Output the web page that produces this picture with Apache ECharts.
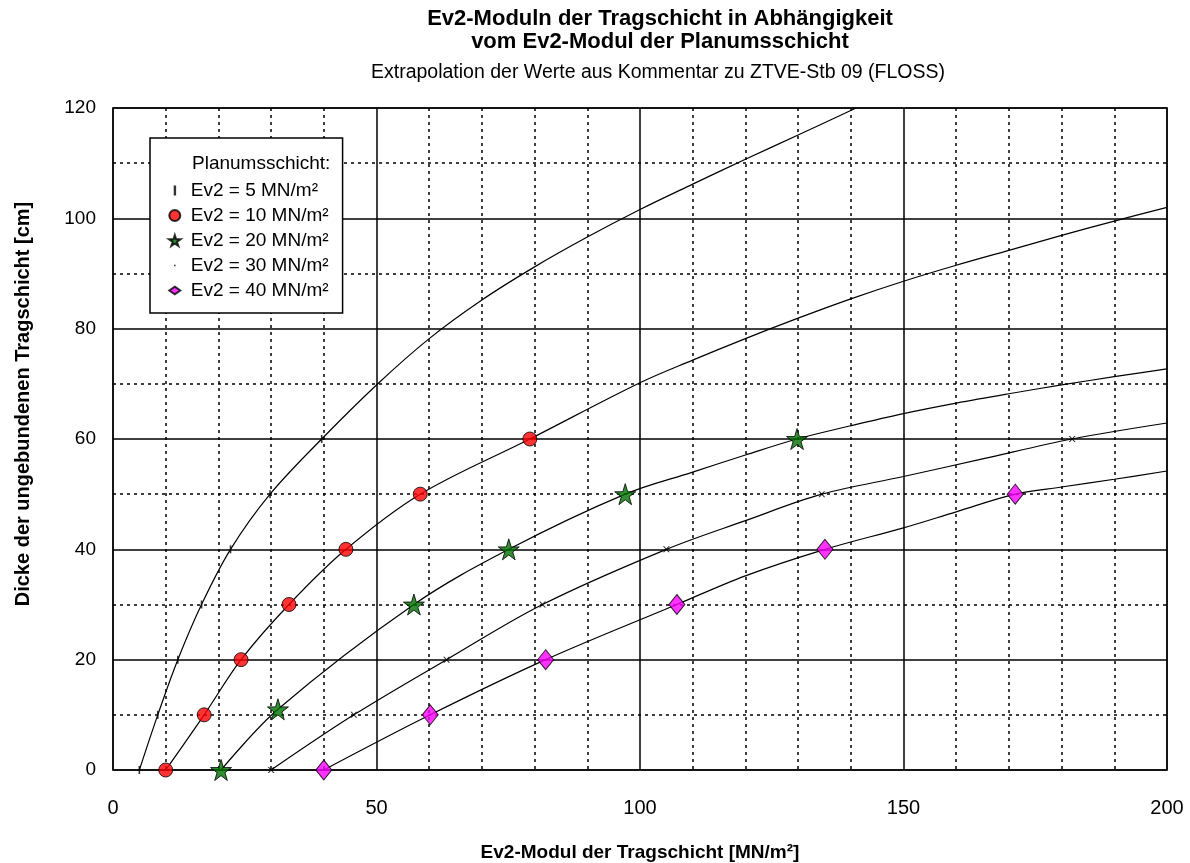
<!DOCTYPE html>
<html>
<head>
<meta charset="utf-8">
<script src="https://cdn.jsdelivr.net/npm/echarts@6/dist/echarts.min.js"></script>
<style>
html, body { margin: 0; padding: 0; background: #fff; }
#chart { width: 1190px; height: 863px; }
</style>
</head>
<body>
<div id="chart"></div>
<script>
const curve5X = [5, 8.5, 12.3, 16.8, 22.3, 29.8, 39.6, 50, 60, 70, 80, 90, 100, 110, 120, 130, 141]
const curve5Y = [0, 10, 20, 30, 40, 50, 60, 69.8, 78.2, 85.2, 91.2, 96.6, 101.6, 106.2, 110.7, 115.1, 120]
const curve10X = [10, 17.3, 24.3, 33.4, 44.2, 58.3, 79.1, 100, 110, 120, 130, 140, 150, 160, 170, 180, 190, 200]
const curve10Y = [0, 10, 20, 30, 40, 50, 60, 70.2, 74.3, 78.2, 81.9, 85.4, 88.6, 91.5, 94.2, 96.9, 99.5, 102]
const curve20X = [20.5, 31.3, 57.1, 75.1, 97.2, 110, 120, 129.8, 140, 150, 160, 170, 180, 190, 200]
const curve20Y = [0, 11, 30, 40, 50, 54, 57.1, 60, 62.4, 64.6, 66.5, 68.2, 69.8, 71.3, 72.7]
const curve30X = [30, 45.7, 63.3, 81.5, 105, 120, 134.5, 150, 165, 182, 200]
const curve30Y = [0, 10, 20, 30, 40, 45.2, 50, 53.2, 56.4, 60, 62.9]
const curve40X = [40, 60.2, 82.1, 107, 120, 135.1, 150, 160, 171.2, 180, 190, 200]
const curve40Y = [0, 10, 20, 30, 35.2, 40, 43.9, 46.8, 50, 51.3, 52.7, 54.2]

// Punkte mit Markierung
const mark5X = [5, 8.5, 12.3, 16.8, 22.3, 29.8, 39.6]
const mark5Y = [0, 10, 20, 30, 40, 50, 60]
const mark10X = [10, 17.3, 24.3, 33.4, 44.2, 58.3, 79.1]
const mark10Y = [0, 10, 20, 30, 40, 50, 60]
const mark20X = [20.5, 31.3, 57.1, 75.1, 97.2, 129.8]
const mark20Y = [0, 11, 30, 40, 50, 60]
const mark30X = [30, 45.7, 63.3, 81.5, 105, 134.5, 182]
const mark30Y = [0, 10, 20, 30, 40, 50, 60]
const mark40X = [40, 60.2, 82.1, 107, 135.1, 171.2]
const mark40Y = [0, 10, 20, 30, 40, 50]

const names = ['Ev2 = 5 MN/m²', 'Ev2 = 10 MN/m²', 'Ev2 = 20 MN/m²', 'Ev2 = 30 MN/m²', 'Ev2 = 40 MN/m²']
const xTicks = [0, 50, 100, 150, 200]
const yTicks = [0, 20, 40, 60, 80, 100, 120]

function zip(xs, ys) {
  return xs.map((x, i) => [x, ys[i]])
}

const starPath = 'path://M50,0 L61,35 L98,35 L68,57 L79,91 L50,70 L21,91 L32,57 L2,35 L39,35 Z'
const crossPath = 'path://M0,0 L2,0 L5,3 L8,0 L10,0 L6,4 L10,8 L8,8 L5,5 L2,8 L0,8 L4,4 Z'
// legend icons: tiny zero-size corners keep the box, so small glyphs stay small
const barIcon = 'path://M0,0 L0,0.01 Z M10,10 L10,10.01 Z M4,0.5 L6.2,0.5 L6.2,9.5 L4,9.5 Z'
const dotIcon = 'path://M0,0 L0,0.01 Z M10,10 L10,10.01 Z M4.3,4.3 L5.7,4.3 L5.7,5.7 L4.3,5.7 Z'
const smallDiamond = 'path://M0,0 L0,0.01 Z M10,10 L10,10.01 Z M5,1.5 L10,5 L5,8.5 L0,5 Z'

const curves = [
  zip(curve5X, curve5Y), zip(curve10X, curve10Y), zip(curve20X, curve20Y),
  zip(curve30X, curve30Y), zip(curve40X, curve40Y)
]
const marks = [
  zip(mark5X, mark5Y), zip(mark10X, mark10Y), zip(mark20X, mark20Y),
  zip(mark30X, mark30Y), zip(mark40X, mark40Y)
]
const markStyle = [
  { symbol: 'rect', symbolSize: [1.6, 8], color: '#000', icon: barIcon },
  { symbol: 'circle', symbolSize: 14, color: '#ff0000', icon: 'circle' },
  { symbol: starPath, symbolSize: 21, color: '#007000', icon: starPath },
  { symbol: crossPath, symbolSize: [7, 6], color: '#000', icon: dotIcon },
  { symbol: 'diamond', symbolSize: [16, 20], color: '#ff00ff', icon: smallDiamond }
]

let series = []
curves.forEach((c, i) => {
  series.push({
    name: 'curve' + i,
    type: 'line',
    data: c,
    smooth: 0.35,
    showSymbol: false,
    lineStyle: { color: '#000', width: 1.2 },
    z: 3,
    silent: true
  })
})
marks.forEach((m, i) => {
  let st = markStyle[i]
  series.push({
    name: names[i],
    type: 'scatter',
    data: m,
    symbol: st.symbol,
    symbolSize: st.symbolSize,
    itemStyle: { color: st.color, borderColor: '#000', borderWidth: i === 0 || i === 3 ? 0 : 1 },
    z: 5
  })
})

const titleFont = '"Liberation Sans", Arial, sans-serif'

const chart = echarts.init(document.getElementById('chart'))
const options = {
  animation: false,
  backgroundColor: '#fff',
  legend: {
    data: names.map((n, i) => ({ name: n, icon: markStyle[i].icon })),
    orient: 'vertical',
    left: 150,
    top: 138,
    padding: [43, 14, 13, 18],
    itemWidth: 12,
    itemHeight: 11,
    itemGap: 6,
    borderColor: '#000',
    borderWidth: 1.5,
    backgroundColor: '#fff',
    textStyle: {
      fontFamily: titleFont,
      fontSize: 19,
      lineHeight: 19,
      color: '#000',
      padding: [0, 0, 0, 5]
    }
  },
  graphic: [
    {
      type: 'text',
      left: 192,
      top: 154,
      z: 100,
      style: { text: 'Planumsschicht:', font: '19px ' + titleFont, fill: '#000' }
    },
    {
      type: 'text',
      x: 660,
      y: 19,
      style: {
        text: 'Ev2-Moduln der Tragschicht in Abhängigkeit',
        font: 'bold 22px ' + titleFont,
        fill: '#000',
        textAlign: 'center',
        textVerticalAlign: 'middle'
      }
    },
    {
      type: 'text',
      x: 660,
      y: 42,
      style: {
        text: 'vom Ev2-Modul der Planumsschicht',
        font: 'bold 22px ' + titleFont,
        fill: '#000',
        textAlign: 'center',
        textVerticalAlign: 'middle'
      }
    },
    {
      type: 'text',
      x: 658,
      y: 73,
      style: {
        text: 'Extrapolation der Werte aus Kommentar zu ZTVE-Stb 09 (FLOSS)',
        font: '19.5px ' + titleFont,
        fill: '#000',
        textAlign: 'center',
        textVerticalAlign: 'middle'
      }
    }
  ],
  grid: {
    left: 113,
    right: 23,
    top: 108,
    bottom: 93,
    outerBoundsMode: 'none',
    show: true,
    borderColor: '#555',
    borderWidth: 2
  },
  xAxis: {
    type: 'value',
    min: 0,
    max: 200,
    interval: 50,
    name: 'Ev2-Modul der Tragschicht [MN/m²]',
    nameLocation: 'middle',
    nameGap: 73,
    nameTextStyle: {
      fontFamily: titleFont,
      fontWeight: 'bold',
      fontSize: 19,
      color: '#000'
    },
    axisLine: { show: false },
    axisTick: { show: false },
    axisLabel: {
      margin: 28,
      fontFamily: titleFont,
      fontSize: 20,
      color: '#000',
      formatter: v => xTicks.includes(v) ? String(v) : ''
    },
    splitLine: { show: true, lineStyle: { color: '#000', width: 1.5 } },
    minorTick: { show: false, splitNumber: 5 },
    minorSplitLine: { show: true, lineStyle: { color: '#000', width: 1.5, type: [3, 4] } }
  },
  yAxis: {
    type: 'value',
    min: 0,
    max: 120,
    interval: 20,
    name: 'Dicke der ungebundenen Tragschicht [cm]',
    nameLocation: 'middle',
    nameGap: 80,
    nameTextStyle: {
      fontFamily: titleFont,
      fontWeight: 'bold',
      fontSize: 20,
      color: '#000',
      padding: [0, 0, 0, 70]
    },
    axisLine: { show: false },
    axisTick: { show: false },
    axisLabel: {
      margin: 17,
      fontFamily: titleFont,
      fontSize: 19,
      color: '#000',
      formatter: v => yTicks.includes(v) ? String(v) : ''
    },
    splitLine: { show: true, lineStyle: { color: '#000', width: 1.5 } },
    minorTick: { show: false, splitNumber: 2 },
    minorSplitLine: { show: true, lineStyle: { color: '#000', width: 1.5, type: [3, 4] } }
  },
  series: series
}
chart.setOption(options)
</script>
</body>
</html>
